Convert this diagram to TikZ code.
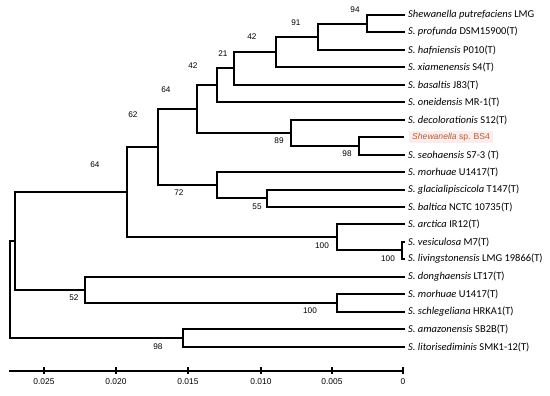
\documentclass[tikz,border=0pt]{standalone}
\usepackage{fontspec}
\setmainfont{Carlito}
\newfontfamily\numfont{Liberation Sans}
\definecolor{bsbrown}{HTML}{B0603A}
\definecolor{bspink}{HTML}{FCECEC}
\begin{document}
\begin{tikzpicture}[x=1pt,y=-1pt,
  br/.style={line width=1.6pt,line cap=rect},
  leaf/.style={anchor=west,inner xsep=4pt,inner ysep=0pt,font=\fontsize{10.5}{11}\selectfont},
  boot/.style={inner sep=0pt,font=\numfont\fontsize{8.2}{9}\selectfont},
  axlab/.style={inner sep=0pt,font=\numfont\fontsize{8.4}{9}\selectfont}]
\useasboundingbox (0,0) rectangle (550,396);
% leaves
\node[leaf] (l0) at (404,15) {\textit{Shewanella putrefaciens} LMG};
\node[leaf] (l1) at (404,32) {\textit{S. profunda} DSM15900(T)};
\node[leaf] (l2) at (404,50) {\textit{S. hafniensis} P010(T)};
\node[leaf] (l3) at (404,67) {\textit{S. xiamenensis} S4(T)};
\node[leaf] (l4) at (404,85) {\textit{S. basaltis} J83(T)};
\node[leaf] (l5) at (404,102) {\textit{S. oneidensis} MR-1(T)};
\node[leaf] (l6) at (404,120) {\textit{S. decolorationis} S12(T)};
\node[leaf,inner xsep=3pt,inner ysep=2pt,fill=bspink,text=bsbrown,font=\numfont\fontsize{8.6}{10}\selectfont] (l7) at (409,137) {\textit{Shewanella} sp. BS4};
\node[leaf] (l8) at (404,155) {\textit{S. seohaensis} S7-3 (T)};
\node[leaf] (l9) at (404,172) {\textit{S. morhuae} U1417(T)};
\node[leaf] (l10) at (404,190) {\textit{S. glacialipiscicola} T147(T)};
\node[leaf] (l11) at (404,207) {\textit{S. baltica} NCTC 10735(T)};
\node[leaf] (l12) at (404,224) {\textit{S. arctica} IR12(T)};
\node[leaf] (l13) at (404,242) {\textit{S. vesiculosa} M7(T)};
\node[leaf] (l14) at (404,259) {\textit{S. livingstonensis} LMG 19866(T)};
\node[leaf] (l15) at (404,277) {\textit{S. donghaensis} LT17(T)};
\node[leaf] (l16) at (404,294) {\textit{S. morhuae} U1417(T)};
\node[leaf] (l17) at (404,312) {\textit{S. schlegeliana} HRKA1(T)};
\node[leaf] (l18) at (404,329) {\textit{S. amazonensis} SB2B(T)};
\node[leaf] (l19) at (404,347) {\textit{S. litorisediminis} SMK1-12(T)};
% internal nodes
\coordinate (n94) at (367,24);
\coordinate (n91) at (318,37);
\coordinate (n42a) at (276,52);
\coordinate (n21) at (234,68);
\coordinate (n42b) at (217,85);
\coordinate (n98a) at (359,146);
\coordinate (n89) at (291,133);
\coordinate (n64b) at (197,109);
\coordinate (n55) at (267,198);
\coordinate (n72) at (217,185);
\coordinate (n62) at (158,147);
\coordinate (n100b) at (402,250);
\coordinate (n100a) at (337,237);
\coordinate (n64a) at (127,192);
\coordinate (n100c) at (337,303);
\coordinate (n52) at (85,290);
\coordinate (nA) at (15,241);
\coordinate (n98b) at (183,338);
\coordinate (root) at (10,289);
% branches
\draw[br] (n94) |- (l0.west);   \draw[br] (n94) |- (l1.west);
\draw[br] (n91) |- (n94);       \draw[br] (n91) |- (l2.west);
\draw[br] (n42a) |- (n91);      \draw[br] (n42a) |- (l3.west);
\draw[br] (n21) |- (n42a);      \draw[br] (n21) |- (l4.west);
\draw[br] (n42b) |- (n21);      \draw[br] (n42b) |- (l5.west);
\draw[br] (n98a) |- ([xshift=-6pt]l7.west); \draw[br] (n98a) |- (l8.west);
\draw[br] (n89) |- (l6.west);   \draw[br] (n89) |- (n98a);
\draw[br] (n64b) |- (n42b);     \draw[br] (n64b) |- (n89);
\draw[br] (n55) |- (l10.west);  \draw[br] (n55) |- (l11.west);
\draw[br] (n72) |- (l9.west);   \draw[br] (n72) |- (n55);
\draw[br] (n62) |- (n64b);      \draw[br] (n62) |- (n72);
\draw[br] (n100b) |- (l13.west); \draw[br] (n100b) |- (l14.west);
\draw[br] (n100a) |- (l12.west); \draw[br] (n100a) |- (n100b);
\draw[br] (n64a) |- (n62);      \draw[br] (n64a) |- (n100a);
\draw[br] (n100c) |- (l16.west); \draw[br] (n100c) |- (l17.west);
\draw[br] (n52) |- (l15.west);  \draw[br] (n52) |- (n100c);
\draw[br] (nA) |- (n64a);       \draw[br] (nA) |- (n52);
\draw[br] (n98b) |- (l18.west); \draw[br] (n98b) |- (l19.west);
\draw[br] (root) |- (nA);       \draw[br] (root) |- (n98b);
% bootstrap values
\node[boot] (b94) at (355,10) {94};
\node[boot] (b91) at (296,23) {91};
\node[boot] (b42a) at (252,37) {42};
\node[boot] (b21) at (223,54) {21};
\node[boot] (b42b) at (193,66) {42};
\node[boot] (b64b) at (166,90) {64};
\node[boot] (b62) at (133,115) {62};
\node[boot] (b64a) at (95,165) {64};
\node[boot] (b89) at (279,141) {89};
\node[boot] (b98a) at (347,154) {98};
\node[boot] (b72) at (179,193) {72};
\node[boot] (b55) at (257,207) {55};
\node[boot] (b100a) at (322,246) {100};
\node[boot] (b100b) at (388,259) {100};
\node[boot] (b100c) at (310,311) {100};
\node[boot] (b52) at (74,298) {52};
\node[boot] (b98b) at (158,347) {98};
% scale axis
\coordinate (ax0) at (9,371);
\coordinate (ax1) at (403,371);
\draw[br,line cap=butt] (ax0) -- (ax1);
\foreach \v/\x/\n in {0.025/44/a,0.020/116/b,0.015/188/c,0.010/261/d,0.005/332/e,0/403/f}{
  \coordinate (tk\n) at (\x,371);
  \draw[br,line cap=butt] ([yshift=-3pt]tk\n) -- ([yshift=4pt]tk\n);
  \node[axlab] (tl\n) at (\x,382) {\v};
}
\end{tikzpicture}
\end{document}
